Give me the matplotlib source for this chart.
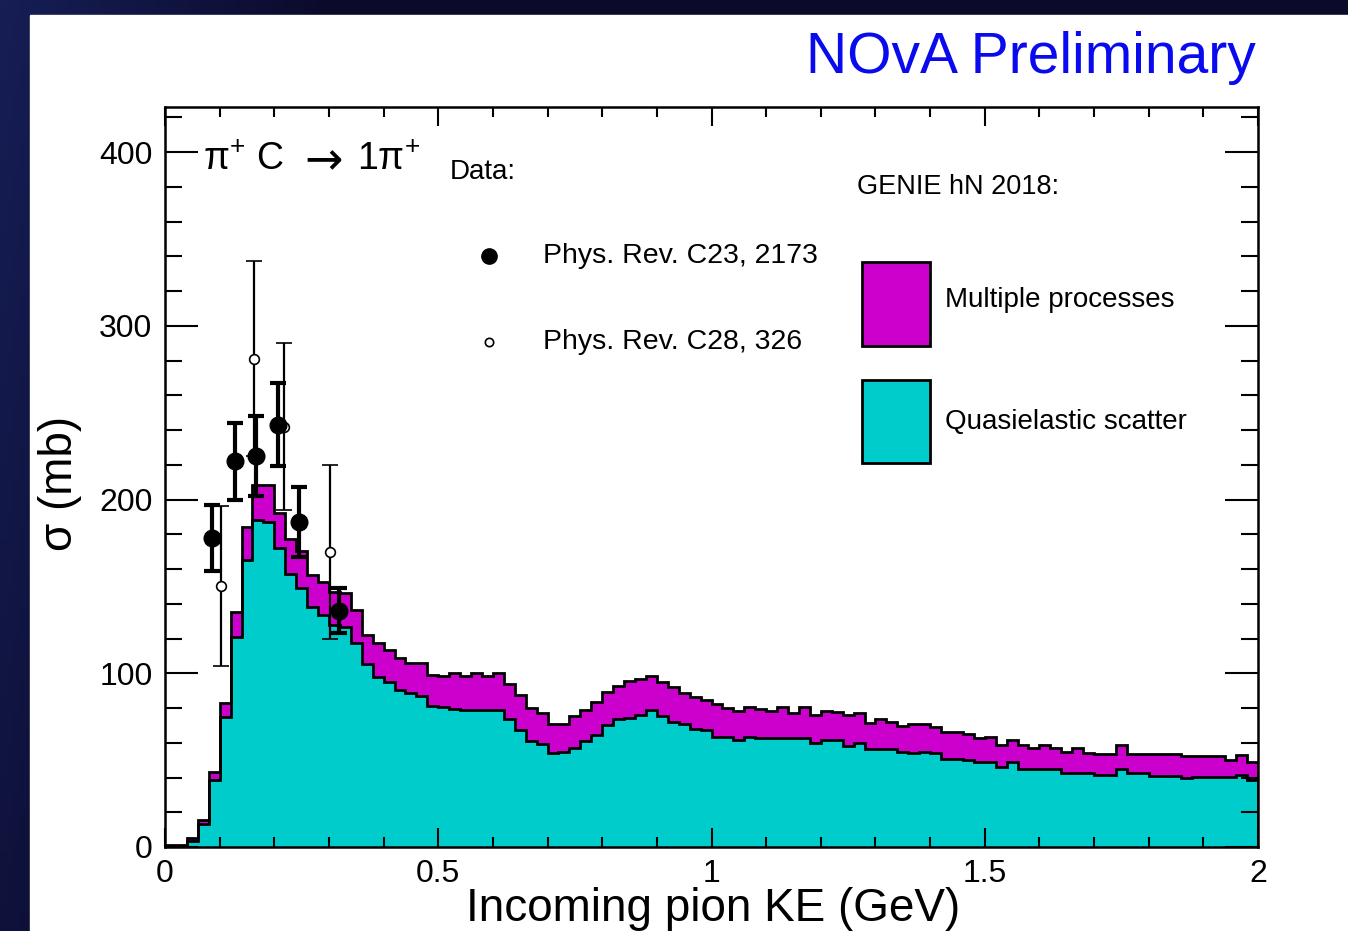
import matplotlib
matplotlib.use('Agg')
import matplotlib.pyplot as plt
import numpy as np
from matplotlib.patches import Rectangle
from matplotlib.ticker import MultipleLocator, FixedLocator

plt.rcParams['font.family'] = ['Liberation Sans', 'DejaVu Sans']
plt.rcParams['mathtext.fontset'] = 'custom'
plt.rcParams['mathtext.rm'] = 'Liberation Sans'
plt.rcParams['mathtext.it'] = 'Liberation Sans'

# ---------------- data ----------------
bin_edges = np.linspace(0.0, 2.0, 101)

total_xsec = [
    1, 1, 5, 15.5, 43, 83, 135, 184, 208.5, 208.5,
    192.4, 177.4, 170.5, 156.5, 152.7, 146.5, 146, 136.6, 122, 117.2,
    113.6, 109, 106, 106, 99, 98.4, 100, 98.4, 100, 98.4,
    100, 94, 87.5, 80, 76.9, 70.8, 70.8, 75.2, 78.8, 83.4,
    89.4, 92.7, 95.5, 96.5, 98.4, 95.1, 92.3, 88.5, 86.2, 84.6,
    82.2, 79.8, 78.5, 80.4, 79.2, 78.5, 80.4, 76.9, 80.4, 76,
    78.5, 77.9, 76, 76.9, 71.2, 73.5, 72.1, 69.6, 70.8, 70.8,
    69.2, 66.4, 66.4, 65, 62.5, 63.5, 58.7, 61.6, 58.7, 56.8,
    58.7, 56.8, 54.9, 56.8, 53.9, 53.5, 53.5, 58.7, 53.5, 53.5,
    53.5, 53.5, 53.5, 52.4, 52.4, 52.4, 52.4, 50.1, 53, 49.1]

qe_xsec = [
    0.5, 0.5, 3.5, 13.5, 38.4, 75, 121, 165, 188, 187,
    172, 157, 149, 138.3, 133.5, 127.8, 126.8, 117.5, 105.3, 98,
    95.1, 90.4, 88.6, 87, 81.2, 80.6, 79.5, 79.1, 79.1, 79.1,
    79.1, 73.7, 67.3, 61, 59.5, 53.9, 54.5, 56.8, 61.2, 64.5,
    70.5, 73.5, 74.5, 76, 78.8, 75.4, 72.1, 70.8, 67.7, 67.5,
    63.5, 63.5, 61.6, 63.5, 62.5, 62.5, 62.5, 62.5, 62.5, 60,
    61.7, 61.7, 58.1, 59.7, 56.2, 56.2, 56.2, 54.9, 53.9, 54.9,
    53.9, 50.5, 50.5, 50.1, 49.1, 49.1, 46.2, 49.1, 44.7, 44.7,
    44.7, 44.7, 42.8, 42.8, 42.8, 41.4, 41.4, 44.7, 42.8, 42.8,
    40.9, 40.9, 40.9, 39.5, 40.5, 40.5, 40.5, 40.5, 41.4, 38.6]

c23_ke = [0.0855, 0.128, 0.167, 0.207, 0.246, 0.318]
c23_xsec = [178, 222, 225, 243, 187, 136]
c23_err = [19, 22, 23, 24, 20, 13]

c28_ke = [0.102, 0.163, 0.218, 0.302]
c28_xsec = [150, 281, 242, 170]
c28_err = [46, 56, 48, 50]

x_ticks = [0, 0.5, 1, 1.5, 2]
x_ticklabels = ['0', '0.5', '1', '1.5', '2']
y_ticks = [0, 100, 200, 300, 400]
y_ticklabels = ['0', '100', '200', '300', '400']

MAGENTA = '#CC00CC'
TEAL = '#00CCCC'

# ---------------- figure ----------------
W, H = 1348, 931
fig = plt.figure(figsize=(W / 100, H / 100), dpi=100)

def fx(px):
    return px / W

def fy(py):
    return 1 - py / H

# dark navy background with gentle gradient
bg = fig.add_axes([0, 0, 1, 1])
bg.axis('off')
gx = np.linspace(0, 1, 200)
gy = np.linspace(0, 1, 200)
GX, GY = np.meshgrid(gx, gy)
t = np.clip(1 - (GX * 4.0 + GY * 0.6) / 1.0, 0, 1)
c0 = np.array([10, 10, 42]) / 255.0
c1 = np.array([22, 30, 85]) / 255.0
img = c0[None, None, :] + (c1 - c0)[None, None, :] * t[:, :, None]
bg.imshow(img, extent=[0, 1, 0, 1], aspect='auto', origin='upper')
bg.set_xlim(0, 1)
bg.set_ylim(0, 1)
bg.add_patch(Rectangle((fx(30), 0), 1 - fx(30), fy(15), color='white', zorder=2))

ax = fig.add_axes([fx(165), fy(847), fx(1258) - fx(165), fy(107) - fy(847)])
ax.set_facecolor('white')

ax.stairs(total_xsec, bin_edges, fill=True, color=MAGENTA, zorder=1)
ax.stairs(qe_xsec, bin_edges, fill=True, color=TEAL, zorder=2)
ax.stairs(total_xsec, bin_edges, color='black', lw=2.0, zorder=3)
ax.stairs(qe_xsec, bin_edges, color='black', lw=2.0, zorder=3)

ax.errorbar(c28_ke, c28_xsec, yerr=c28_err, fmt='o', ms=7, mfc='white',
            mec='black', mew=1.2, ecolor='black', elinewidth=1.6,
            capsize=6, capthick=1.6, zorder=5)
ax.errorbar(c23_ke, c23_xsec, yerr=c23_err, fmt='o', ms=12, mfc='black',
            mec='black', ecolor='black', elinewidth=3, capsize=6,
            capthick=3, zorder=6)

ax.set_xlim(0, 2)
ax.set_ylim(0, 425.9)
ax.xaxis.set_major_locator(FixedLocator(x_ticks))
ax.set_xticklabels(x_ticklabels)
ax.yaxis.set_major_locator(FixedLocator(y_ticks))
ax.set_yticklabels(y_ticklabels)
ax.xaxis.set_minor_locator(MultipleLocator(0.1))
ax.yaxis.set_minor_locator(MultipleLocator(20))
ax.tick_params(which='both', direction='in', top=True, right=True,
               width=1.5, colors='black', labelsize=23)
ax.tick_params(axis='x', which='major', length=14, pad=9)
ax.tick_params(axis='x', which='minor', length=7)
ax.tick_params(axis='y', which='major', length=24, pad=9)
ax.tick_params(axis='y', which='minor', length=12)
for s in ax.spines.values():
    s.set_linewidth(1.8)
ax.set_axisbelow(False)

fig.text(fx(713), fy(921), 'Incoming pion KE (GeV)', ha='center',
         va='baseline', fontsize=33)
fig.text(fx(60), fy(483), 'σ (mb)', ha='center', va='center',
         rotation=90, fontsize=33)

fig.text(fx(1256), fy(58), 'NOvA Preliminary', ha='right', va='center',
         fontsize=41, color='#0a0aee')

# reaction label, drawn in three pieces
fig.text(fx(203), fy(160), 'π$^{+}$ C', ha='left', va='center', fontsize=27)
fig.text(fx(324), fy(162), '→', ha='center', va='center', fontsize=33,
         family='DejaVu Sans')
fig.text(fx(357), fy(160), '1π$^{+}$', ha='left', va='center', fontsize=27)

# Data legend
fig.text(fx(450), fy(172), 'Data:', ha='left', va='center', fontsize=20)
fig.lines.append(plt.Line2D([fx(489)], [fy(256)], marker='o', ms=11,
                            color='black', transform=fig.transFigure))
fig.text(fx(543), fy(256), 'Phys. Rev. C23, 2173', ha='left',
         va='center', fontsize=20.5)
fig.lines.append(plt.Line2D([fx(489)], [fy(342)], marker='o', ms=6,
                            mfc='white', mec='black', mew=1.2,
                            color='black', transform=fig.transFigure))
fig.text(fx(543), fy(342), 'Phys. Rev. C28, 326', ha='left',
         va='center', fontsize=20.5)

# GENIE legend
fig.text(fx(857), fy(187), 'GENIE hN 2018:', ha='left', va='center',
         fontsize=19.5)
fig.patches.append(Rectangle((fx(862), fy(346)), fx(930) - fx(862),
                             fy(262) - fy(346), facecolor=MAGENTA,
                             edgecolor='black', lw=2,
                             transform=fig.transFigure))
fig.text(fx(945), fy(300), 'Multiple processes', ha='left', va='center',
         fontsize=20)
fig.patches.append(Rectangle((fx(862), fy(463)), fx(930) - fx(862),
                             fy(380) - fy(463), facecolor=TEAL,
                             edgecolor='black', lw=2,
                             transform=fig.transFigure))
fig.text(fx(945), fy(422), 'Quasielastic scatter', ha='left', va='center',
         fontsize=20)

fig.savefig('out.png', dpi=100)
